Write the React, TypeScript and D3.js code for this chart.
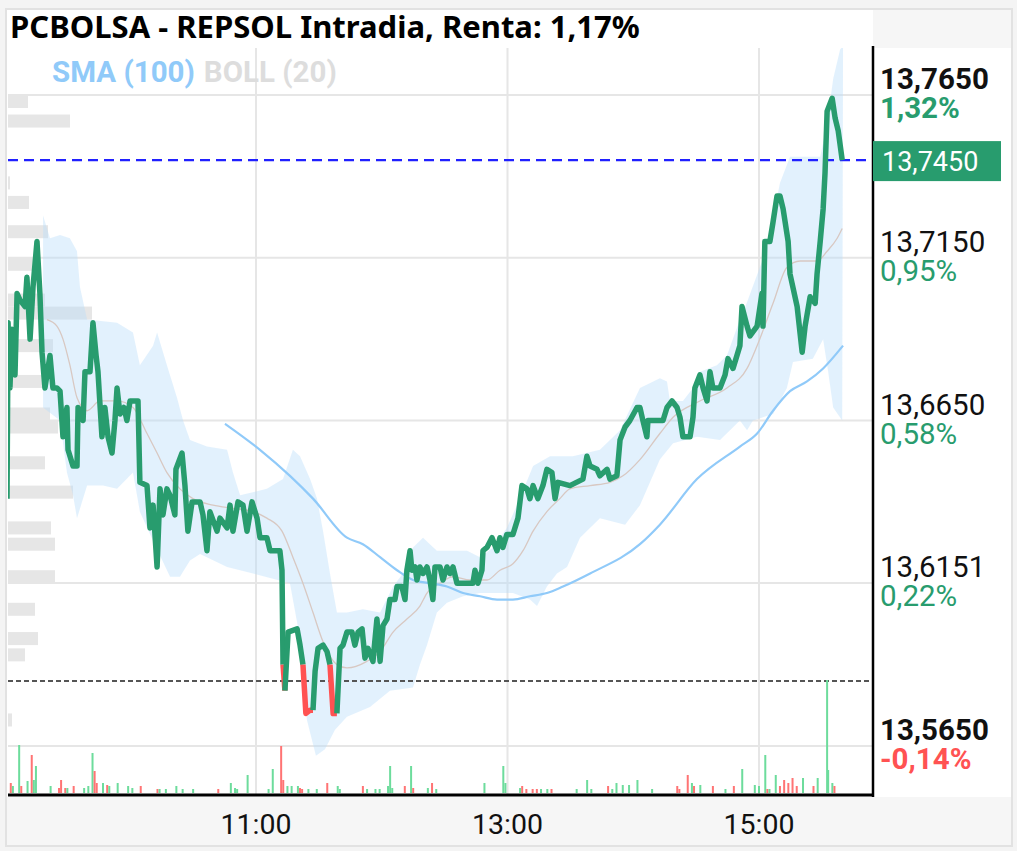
import * as d3 from 'd3';
import { useEffect, useRef } from 'react';

const W = 1017;
const H = 851;

const titulo = 'PCBOLSA - REPSOL Intradia, Renta: 1,17%';

// precio intradía: [minutos desde las 9:00, precio]
const precios: [number, number][] = [
  [1.2, 13.641], [1.7, 13.695], [2.6, 13.675], [3.6, 13.693], [5.0, 13.679], [6.0, 13.704],
  [7.4, 13.702], [9.8, 13.7], [10.7, 13.709], [12.2, 13.69], [13.6, 13.706], [15.5, 13.72],
  [16.9, 13.704], [17.9, 13.686], [19.3, 13.675], [21.7, 13.685], [23.1, 13.675], [25.0, 13.675],
  [26.5, 13.674], [27.9, 13.66], [29.8, 13.669], [30.3, 13.656], [32.7, 13.651], [34.6, 13.651],
  [35.1, 13.669], [37.5, 13.665], [38.4, 13.68], [40.8, 13.68], [42.2, 13.695], [43.7, 13.685],
  [44.6, 13.68], [46.5, 13.66], [47.9, 13.669], [49.4, 13.66], [51.3, 13.655], [52.7, 13.665],
  [53.7, 13.675], [55.1, 13.667], [57.0, 13.669], [58.4, 13.665], [59.9, 13.671], [63.7, 13.671],
  [64.6, 13.646], [68.0, 13.645], [69.4, 13.632], [70.9, 13.639], [72.8, 13.62], [74.2, 13.644],
  [75.6, 13.636], [77.5, 13.644], [79.0, 13.642], [81.3, 13.636], [81.8, 13.65], [84.7, 13.655],
  [86.1, 13.645], [87.5, 13.631], [89.5, 13.64], [93.3, 13.64], [94.7, 13.636], [96.6, 13.625],
  [98.0, 13.637], [101.4, 13.631], [102.8, 13.635], [106.2, 13.632], [107.6, 13.639], [109.0, 13.631],
  [111.4, 13.64], [113.8, 13.639], [115.7, 13.631], [118.1, 13.64], [120.5, 13.635], [121.9, 13.629],
  [125.2, 13.629], [126.7, 13.625], [130.0, 13.625], [131.4, 13.625], [132.4, 13.619], [132.9, 13.59],
  [133.8, 13.582], [135.3, 13.6], [139.6, 13.601], [141.0, 13.596], [142.4, 13.59], [143.8, 13.575],
  [145.8, 13.576], [147.2, 13.576], [148.2, 13.588], [149.6, 13.595], [152.0, 13.596], [153.9, 13.594],
  [155.3, 13.59], [156.8, 13.575], [158.6, 13.575], [160.1, 13.595], [161.5, 13.596], [163.4, 13.6],
  [165.8, 13.6], [167.2, 13.596], [168.7, 13.6], [170.6, 13.601], [172.0, 13.592], [173.4, 13.595],
  [175.8, 13.591], [177.7, 13.604], [179.2, 13.591], [180.6, 13.602], [182.5, 13.604], [183.9, 13.61],
  [186.3, 13.61], [187.3, 13.614], [189.6, 13.614], [191.1, 13.61], [192.0, 13.619], [193.5, 13.625],
  [194.4, 13.619], [195.9, 13.62], [196.8, 13.616], [198.2, 13.62], [199.7, 13.618], [201.6, 13.62],
  [203.0, 13.616], [204.4, 13.61], [205.4, 13.62], [207.8, 13.62], [209.2, 13.616], [211.1, 13.62],
  [212.6, 13.618], [214.0, 13.62], [215.9, 13.615], [220.7, 13.615], [223.5, 13.615], [224.5, 13.619],
  [225.9, 13.615], [227.8, 13.619], [228.3, 13.625], [230.2, 13.626], [232.6, 13.629], [235.0, 13.625],
  [236.4, 13.629], [237.8, 13.626], [239.7, 13.63], [242.6, 13.63], [245.0, 13.635], [246.9, 13.645],
  [249.3, 13.644], [250.7, 13.641], [252.2, 13.645], [254.5, 13.641], [256.9, 13.645], [258.8, 13.65],
  [261.2, 13.649], [262.7, 13.641], [264.1, 13.646], [269.8, 13.645], [276.0, 13.647], [277.9, 13.654],
  [279.4, 13.651], [282.7, 13.65], [284.1, 13.648], [287.5, 13.65], [288.9, 13.647], [292.2, 13.648],
  [293.7, 13.659], [296.1, 13.663], [298.4, 13.665], [301.8, 13.669], [303.2, 13.669], [304.6, 13.665],
  [306.5, 13.66], [307.0, 13.665], [309.4, 13.665], [312.7, 13.665], [314.2, 13.665], [316.1, 13.669],
  [318.5, 13.671], [320.9, 13.669], [322.3, 13.666], [323.7, 13.66], [327.1, 13.66], [328.5, 13.666],
  [329.4, 13.675], [331.8, 13.679], [333.3, 13.675], [335.2, 13.671], [336.6, 13.68], [338.0, 13.675],
  [341.4, 13.675], [343.8, 13.679], [345.2, 13.684], [347.6, 13.681], [349.5, 13.685], [350.9, 13.688],
  [351.9, 13.7], [354.3, 13.694], [355.7, 13.691], [359.1, 13.694], [361.4, 13.704], [361.9, 13.694],
  [362.8, 13.72], [365.2, 13.72], [366.7, 13.726], [368.6, 13.734], [370.0, 13.734], [371.5, 13.73],
  [373.9, 13.72], [374.8, 13.71], [378.2, 13.7], [380.6, 13.686], [382.0, 13.694], [384.4, 13.703],
  [386.8, 13.701], [387.7, 13.71], [389.2, 13.72], [390.6, 13.73], [391.5, 13.741], [392.5, 13.76],
  [394.9, 13.764], [396.3, 13.758], [397.8, 13.754], [399.7, 13.745],
];

// SMA (100)
const sma100: [number, number][] = [
  [105.2, 13.664], [121.9, 13.656], [136.2, 13.648], [147.2, 13.641], [163.4, 13.629], [171.0, 13.627],
  [179.2, 13.623], [187.3, 13.619], [194.9, 13.616], [203.0, 13.615], [211.1, 13.614], [218.8, 13.612],
  [226.9, 13.611], [235.0, 13.61], [242.6, 13.61], [250.7, 13.611], [258.8, 13.612], [266.5, 13.614],
  [279.4, 13.618], [303.2, 13.627], [312.7, 13.633], [330.4, 13.647], [350.9, 13.657], [359.1, 13.661],
  [366.7, 13.668], [374.8, 13.674], [382.9, 13.677], [390.6, 13.681], [400.1, 13.688],
];

// BOLL (20): banda superior, inferior y media
const bollSup: [number, number][] = [
  [18.4, 13.728], [21.7, 13.721], [26.5, 13.722], [31.2, 13.721], [34.6, 13.717], [36.0, 13.706],
  [39.4, 13.696], [53.7, 13.695], [61.3, 13.692], [64.6, 13.682], [70.9, 13.688], [72.8, 13.692],
  [77.5, 13.682], [82.3, 13.672], [85.2, 13.665], [88.5, 13.659], [96.6, 13.657], [106.2, 13.656],
  [109.0, 13.649], [112.4, 13.642], [125.2, 13.644], [132.9, 13.647], [137.6, 13.656], [141.0, 13.654],
  [145.8, 13.647], [149.1, 13.641], [152.0, 13.631], [155.3, 13.618], [158.6, 13.606], [163.4, 13.606],
  [171.0, 13.607], [179.2, 13.606], [185.4, 13.614], [190.1, 13.618], [194.9, 13.626], [199.7, 13.629],
  [206.3, 13.625], [212.6, 13.625], [220.7, 13.625], [226.9, 13.623], [233.1, 13.626], [239.7, 13.632],
  [245.9, 13.641], [252.2, 13.651], [260.3, 13.654], [271.2, 13.654], [284.1, 13.656], [293.7, 13.662],
  [303.2, 13.675], [312.7, 13.678], [316.1, 13.677], [317.5, 13.671], [323.7, 13.671], [328.5, 13.675],
  [331.8, 13.68], [339.9, 13.682], [344.7, 13.685], [350.9, 13.696], [352.4, 13.698], [363.8, 13.718],
  [370.0, 13.738], [374.8, 13.746], [389.2, 13.746], [392.5, 13.756], [395.4, 13.77], [398.7, 13.779],
  [400.1, 13.78],
];
const bollInf: [number, number][] = [
  [18.4, 13.669], [26.5, 13.665], [29.8, 13.649], [32.7, 13.642], [34.6, 13.635], [39.4, 13.645],
  [47.0, 13.645], [53.7, 13.644], [61.3, 13.649], [64.6, 13.637], [70.9, 13.628], [79.0, 13.617],
  [83.7, 13.617], [88.5, 13.622], [93.3, 13.624], [106.2, 13.62], [118.6, 13.618], [136.2, 13.615],
  [141.0, 13.598], [144.3, 13.573], [148.6, 13.562], [152.9, 13.564], [157.7, 13.57], [163.4, 13.574],
  [174.4, 13.577], [183.9, 13.582], [194.9, 13.583], [198.2, 13.59], [201.6, 13.596], [206.3, 13.606],
  [211.1, 13.609], [218.8, 13.611], [226.9, 13.612], [242.6, 13.612], [250.7, 13.61], [254.1, 13.608],
  [258.8, 13.614], [263.6, 13.618], [268.4, 13.62], [274.6, 13.629], [284.1, 13.635], [296.1, 13.633],
  [303.2, 13.639], [312.7, 13.653], [319.0, 13.658], [330.4, 13.66], [341.4, 13.659], [350.9, 13.665],
  [354.3, 13.662], [357.1, 13.665], [366.7, 13.667], [373.3, 13.675], [376.2, 13.683], [385.7, 13.684],
  [390.6, 13.69], [393.0, 13.68], [395.4, 13.669], [399.7, 13.665],
];
const bollMed: [number, number][] = [
  [20.3, 13.696], [25.0, 13.694], [27.9, 13.69], [31.2, 13.682], [34.6, 13.672], [39.4, 13.668],
  [45.6, 13.671], [53.7, 13.671], [61.3, 13.669], [68.0, 13.661], [72.8, 13.655], [77.5, 13.649],
  [83.7, 13.644], [89.9, 13.641], [99.5, 13.639], [109.0, 13.638], [118.6, 13.637], [125.2, 13.635],
  [132.4, 13.631], [137.6, 13.623], [142.4, 13.615], [147.2, 13.606], [152.0, 13.597], [158.6, 13.59],
  [163.4, 13.589], [172.9, 13.591], [179.2, 13.594], [185.4, 13.6], [192.0, 13.604], [198.2, 13.608],
  [201.6, 13.612], [207.8, 13.615], [214.0, 13.617], [222.1, 13.616], [230.2, 13.616], [236.4, 13.619],
  [242.6, 13.621], [247.4, 13.625], [252.2, 13.631], [258.8, 13.637], [265.0, 13.641], [269.8, 13.644],
  [279.4, 13.645], [288.9, 13.646], [295.1, 13.648], [303.2, 13.653], [312.7, 13.661], [319.0, 13.666],
  [331.8, 13.671], [344.7, 13.675], [354.3, 13.681], [359.1, 13.688], [366.7, 13.701], [373.3, 13.712],
  [379.6, 13.714], [387.7, 13.714], [392.5, 13.717], [397.3, 13.721], [399.7, 13.724],
];

// volumen: [minuto, miles de acciones, 1 sube / -1 baja]
const volumenes: [number, number, number][] = [
  [1, 30, 1], [3, 20, -1], [4, 14, 1], [7, 96, 1], [8, 14, -1], [11, 24, 1], [13, 76, -1], [14, 26, 1],
  [15, 54, 1], [22, 14, 1], [26, 10, -1], [27, 26, -1], [29, 10, -1], [30, 10, 1], [33, 14, -1],
  [38, 10, 1], [40, 14, 1], [42, 80, 1], [43, 44, -1], [44, 20, -1], [47, 20, 1], [49, 16, -1],
  [50, 14, 1], [54, 20, 1], [59, 14, 1], [61, 10, 1], [65, 14, -1], [73, 8, -1], [74, 8, 1], [77, 8, 1],
  [82, 14, 1], [85, 8, 1], [90, 8, 1], [102, 8, -1], [108, 20, 1], [110, 10, 1], [111, 8, 1],
  [116, 36, 1], [126, 8, 1], [128, 48, 1], [132, 94, -1], [133, 26, -1], [135, 14, 1], [137, 14, 1],
  [140, 14, 1], [141, 10, -1], [142, 8, -1], [145, 8, 1], [149, 8, 1], [154, 20, -1], [159, 14, 1],
  [160, 8, 1], [171, 14, -1], [173, 8, 1], [177, 8, 1], [179, 8, 1], [183, 14, 1], [184, 54, 1],
  [185, 10, 1], [191, 14, -1], [194, 54, 1], [195, 10, -1], [202, 10, 1], [204, 20, -1], [206, 8, 1],
  [229, 20, 1], [238, 54, 1], [239, 20, 1], [246, 10, 1], [247, 14, -1], [249, 8, -1], [252, 8, -1],
  [254, 8, -1], [256, 8, 1], [259, 8, 1], [261, 8, -1], [273, 8, 1], [278, 26, 1], [280, 8, 1],
  [288, 14, -1], [290, 8, 1], [292, 20, 1], [295, 16, 1], [298, 16, 1], [302, 26, 1], [309, 8, 1],
  [321, 14, -1], [322, 8, -1], [326, 36, -1], [328, 20, 1], [329, 14, -1], [332, 16, 1], [338, 14, -1],
  [344, 8, 1], [348, 14, -1], [352, 48, 1], [358, 16, 1], [360, 14, 1], [363, 76, 1], [364, 8, -1],
  [365, 8, 1], [368, 36, 1], [370, 14, -1], [372, 26, -1], [374, 20, -1], [376, 30, -1], [378, 14, -1],
  [381, 30, 1], [386, 14, -1], [388, 30, 1], [392.5, 226, 1], [393, 46, 1], [395, 20, 1], [396, 14, -1],
];

// perfil de volumen por precio (barras grises a la izquierda)
const perfilNiveles = [13.763, 13.757, 13.738, 13.732, 13.723, 13.713, 13.702, 13.698, 13.688, 13.677,
  13.667, 13.663, 13.652, 13.643, 13.632, 13.627, 13.617, 13.607, 13.598, 13.593, 13.573];
const perfilVolumen = [20, 62, 2, 21, 40, 25, 37, 84, 45, 37, 42, 50, 37, 65, 43, 47, 47, 27, 30, 17, 4];

const ticksPrecio = [13.765, 13.715, 13.665, 13.6151, 13.565];
const ticksPrecioTxt = ['13,7650', '13,7150', '13,6650', '13,6151', '13,5650'];
const ticksPct = ['1,32%', '0,95%', '0,58%', '0,22%', '-0,14%'];
const ticksHora = [120, 240, 360];
const ticksHoraTxt = ['11:00', '13:00', '15:00'];

const cierreAnterior = 13.585;
const ultimo = 13.745;
const ultimoTxt = '13,7450';

const VERDE = '#289c6e';
const ROJO = '#ff5252';

export default function App() {
  const svgRef = useRef<SVGSVGElement | null>(null);

  useEffect(() => {
    if (!svgRef.current) return;
    const svg = d3.select(svgRef.current);
    svg.selectAll('*').remove();

    const left = 8, right = 873, top = 48, bottom = 795;

    const x = d3.scaleLinear().domain([120, 360]).range([256, 759]);
    const y = d3.scaleLinear().domain([13.565, 13.765]).range([746, 95]);
    const yVol = d3.scaleLinear().domain([0, 230]).range([793, 678]);
    const wPerfil = d3.scaleLinear().domain([0, 100]).range([0, 100]);

    // fondo y marco
    svg.append('rect').attr('width', W).attr('height', H).attr('fill', '#f4f4f4');
    svg.append('rect').attr('x', 6).attr('y', 9).attr('width', 1006).attr('height', 837)
      .attr('fill', '#f6f6f6').attr('stroke', '#e2e2e2').attr('stroke-width', 2);
    svg.append('rect').attr('x', 7).attr('y', 10).attr('width', right - 7).attr('height', top - 10).attr('fill', '#fff');
    svg.append('rect').attr('x', 7).attr('y', top).attr('width', 1004).attr('height', bottom - top + 2).attr('fill', '#fff');

    const defs = svg.append('defs');
    defs.append('clipPath').attr('id', 'plot')
      .append('rect').attr('x', left).attr('y', top).attr('width', right - left).attr('height', bottom - top);

    const g = svg.append('g').attr('clip-path', 'url(#plot)');

    // rejilla
    g.append('g').selectAll('line').data(ticksPrecio).join('line')
      .attr('x1', left).attr('x2', right).attr('y1', d => y(d)).attr('y2', d => y(d))
      .attr('stroke', '#e6e6e6').attr('stroke-width', 2);
    g.append('g').selectAll('line').data(ticksHora).join('line')
      .attr('x1', d => x(d)).attr('x2', d => x(d)).attr('y1', top).attr('y2', bottom)
      .attr('stroke', '#e6e6e6').attr('stroke-width', 2);

    // perfil de volumen
    g.append('g').selectAll('rect').data(perfilNiveles).join('rect')
      .attr('x', left)
      .attr('y', d => y(d + 0.002))
      .attr('width', (_, i) => wPerfil(perfilVolumen[i]))
      .attr('height', d => y(d - 0.002) - y(d + 0.002))
      .attr('fill', '#e6e6e6');

    const linea = d3.line<[number, number]>().x(d => x(d[0])).y(d => y(d[1]));
    const suave = d3.line<[number, number]>().x(d => x(d[0])).y(d => y(d[1])).curve(d3.curveMonotoneX);

    // bandas de bollinger
    g.append('path')
      .attr('d', linea(bollSup.concat(bollInf.slice().reverse())) + 'Z')
      .attr('fill', '#bbdefb').attr('fill-opacity', 0.42);
    g.append('path').attr('d', suave(bollMed))
      .attr('fill', 'none').attr('stroke', '#d8c8c2').attr('stroke-width', 1.3);

    // sma 100
    g.append('path').attr('d', suave(sma100))
      .attr('fill', 'none').attr('stroke', '#90caf9').attr('stroke-width', 2.2);

    // último precio y cierre anterior
    g.append('line').attr('x1', left).attr('x2', right).attr('y1', y(ultimo)).attr('y2', y(ultimo))
      .attr('stroke', '#2020ff').attr('stroke-width', 2.2).attr('stroke-dasharray', '10,6');
    g.append('line').attr('x1', left).attr('x2', right).attr('y1', y(cierreAnterior)).attr('y2', y(cierreAnterior))
      .attr('stroke', '#555').attr('stroke-width', 2).attr('stroke-dasharray', '5,3');

    // volumen
    g.append('g').selectAll('rect').data(volumenes).join('rect')
      .attr('x', d => x(d[0]) - 1)
      .attr('y', d => yVol(d[1]))
      .attr('width', 2)
      .attr('height', d => yVol(0) - yVol(d[1]))
      .attr('fill', d => (d[2] > 0 ? '#6ddc9c' : '#ff7474'));

    // línea de precio, roja por debajo del cierre anterior
    const tramos: { color: string; pts: [number, number][] }[] = [];
    for (let i = 1; i < precios.length; i++) {
      const c = precios[i][1] < cierreAnterior ? ROJO : VERDE;
      const ult = tramos[tramos.length - 1];
      if (ult && ult.color === c) ult.pts.push(precios[i]);
      else tramos.push({ color: c, pts: [precios[i - 1], precios[i]] });
    }
    g.append('g').selectAll('path').data(tramos).join('path')
      .attr('d', d => linea(d.pts))
      .attr('fill', 'none')
      .attr('stroke', d => d.color)
      .attr('stroke-width', 5.5)
      .attr('stroke-linejoin', 'round');

    // ejes
    svg.append('line').attr('x1', right).attr('x2', right).attr('y1', top - 2).attr('y2', bottom + 2)
      .attr('stroke', '#000').attr('stroke-width', 2.5);
    svg.append('line').attr('x1', left).attr('x2', right + 1).attr('y1', bottom).attr('y2', bottom)
      .attr('stroke', '#000').attr('stroke-width', 3);

    const fuente = 'Roboto, sans-serif';
    const ejeY = svg.append('g').attr('font-family', fuente).attr('font-size', 29.5);
    ticksPrecio.forEach((t, i) => {
      const extremo = i === 0 || i === ticksPrecio.length - 1;
      ejeY.append('text').attr('x', 880).attr('y', y(t) - 6).text(ticksPrecioTxt[i])
        .attr('fill', '#111').attr('font-weight', extremo ? 'bold' : 'normal');
      ejeY.append('text').attr('x', 880).attr('y', y(t) + 23).text(ticksPct[i])
        .attr('fill', ticksPct[i].startsWith('-') ? ROJO : VERDE)
        .attr('font-weight', extremo ? 'bold' : 'normal');
    });

    // etiqueta del último precio
    svg.append('rect').attr('x', right).attr('y', y(ultimo) - 19).attr('width', 128).attr('height', 40).attr('fill', VERDE);
    svg.append('text').attr('x', 882).attr('y', y(ultimo) + 11).text(ultimoTxt)
      .attr('font-family', fuente).attr('font-size', 27).attr('fill', '#fff');

    // eje de horas
    svg.append('g').selectAll('text').data(ticksHora).join('text')
      .attr('x', d => x(d)).attr('y', 834).attr('text-anchor', 'middle')
      .attr('font-family', fuente).attr('font-size', 28.5).attr('fill', '#111')
      .text((_, i) => ticksHoraTxt[i]);

    // leyenda
    const ley = svg.append('text').attr('x', 52).attr('y', 82)
      .attr('font-family', fuente).attr('font-size', 29.5).attr('font-weight', 'bold');
    ley.append('tspan').attr('fill', '#90caf9').text('SMA (100)');
    ley.append('tspan').attr('fill', '#dddddd').attr('dx', 9).text('BOLL (20)');

    // título
    svg.append('text').attr('x', 10).attr('y', 38).text(titulo)
      .attr('font-family', '"Noto Sans", sans-serif').attr('font-size', 31).attr('font-weight', 'bold')
      .attr('fill', '#000');
  }, []);

  return (
    <svg
      ref={svgRef}
      width={W}
      height={H}
      style={{ position: 'absolute', left: 0, top: 0, display: 'block' }}
    />
  );
}
